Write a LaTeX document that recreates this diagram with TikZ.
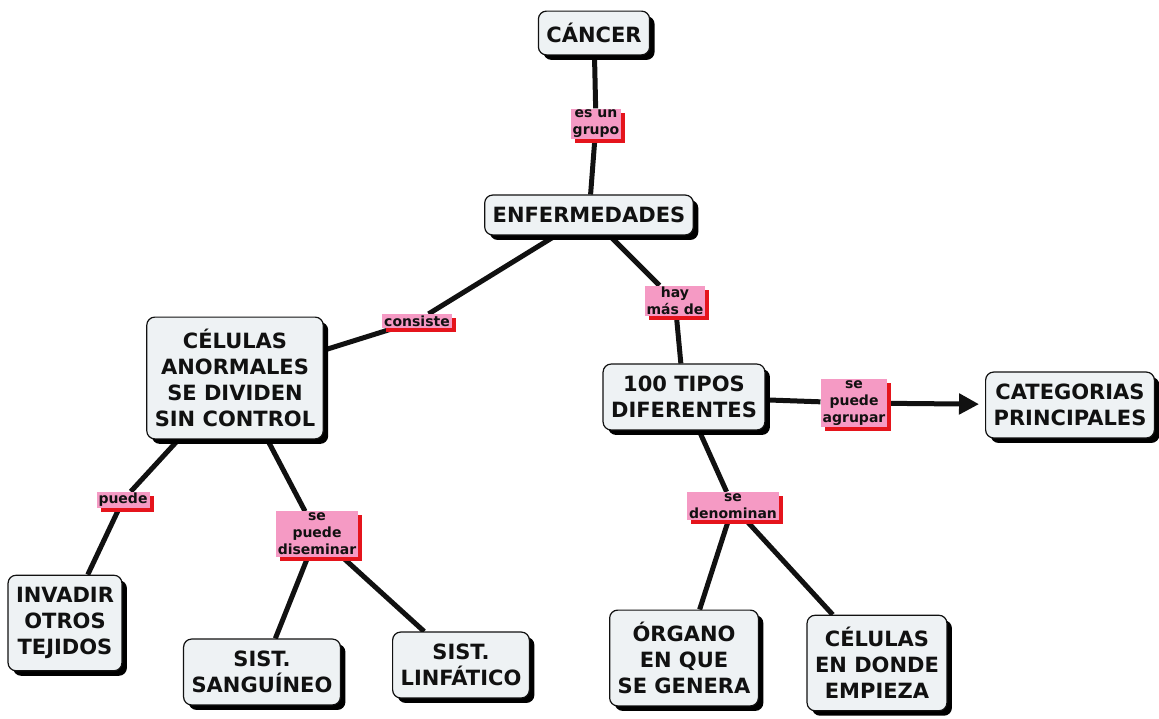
\documentclass[tikz,border=0pt]{standalone}
\usepackage{fontspec}
\setmainfont{DejaVu Sans}
\usetikzlibrary{arrows.meta,shadows,backgrounds}
\definecolor{cmBox}{HTML}{EEF2F4}
\definecolor{cmPink}{HTML}{F59AC4}
\definecolor{cmRed}{HTML}{E5141C}
\definecolor{cmInk}{HTML}{111111}
\tikzset{
  cm concept/.style={draw=cmInk, line width=1.2pt, rounded corners=8pt, fill=cmBox, align=center,
    inner xsep=8pt, inner ysep=12pt, font=\bfseries\fontsize{21}{26}\selectfont, text=cmInk,
    drop shadow={shadow xshift=5pt, shadow yshift=-5pt, fill=black, opacity=1}},
  cm link/.style={fill=cmPink, align=center, inner xsep=2pt, inner ysep=1.5pt,
    font=\bfseries\fontsize{14}{17}\selectfont, text=cmInk,
    drop shadow={shadow xshift=4pt, shadow yshift=-4pt, fill=cmRed, opacity=1}},
  cm line/.style={draw=cmInk, line width=5pt},
}
\begin{document}
\begin{tikzpicture}[x=1pt, y=-1pt]
  \useasboundingbox (0,0) rectangle (1159,718);
  % Concepts
  \node[cm concept] (cancer) at (594,33) {CÁNCER};
  \node[cm concept] (enf) at (589,215) {ENFERMEDADES};
  \node[cm concept] (celulas) at (235,378) {CÉLULAS\\ANORMALES\\SE DIVIDEN\\SIN CONTROL};
  \node[cm concept] (tipos) at (684,397) {100 TIPOS\\DIFERENTES};
  \node[cm concept] (categ) at (1070,405) {CATEGORIAS\\PRINCIPALES};
  \node[cm concept] (invadir) at (65,623) {INVADIR\\OTROS\\TEJIDOS};
  \node[cm concept] (sangre) at (262,672) {SIST.\\SANGUÍNEO};
  \node[cm concept] (linfa) at (461,665) {SIST.\\LINFÁTICO};
  \node[cm concept] (organo) at (684,658) {ÓRGANO\\EN QUE\\SE GENERA};
  \node[cm concept] (empieza) at (877,663) {CÉLULAS\\EN DONDE\\EMPIEZA};
  % Linking phrases
  \node[cm link] (grupo) at (596,124) {es un\\grupo};
  \node[cm link] (consiste) at (417,321) {consiste};
  \node[cm link] (hay) at (675,301) {hay\\más de};
  \node[cm link] (agrupar) at (854,403) {se\\puede\\agrupar};
  \node[cm link] (puede) at (123,500) {puede};
  \node[cm link] (disem) at (317,534) {se\\puede\\diseminar};
  \node[cm link] (denom) at (733,506) {se\\denominan};
  % Connectors
  \begin{scope}[on background layer]
    \fill[white] (0,0) rectangle (1159,718);
    \draw[cm line] (cancer) -- (grupo);
    \draw[cm line] (grupo) -- (enf);
    \draw[cm line] (enf) -- (consiste);
    \draw[cm line] (consiste) -- (celulas);
    \draw[cm line] (enf) -- (hay);
    \draw[cm line] (hay) -- (tipos);
    \draw[cm line] (tipos) -- (agrupar);
    \draw[cm line, -{Triangle[length=20pt, width=20pt]}, shorten >=6pt] (agrupar) -- (categ);
    \draw[cm line] (celulas) -- (puede);
    \draw[cm line] (puede) -- (invadir);
    \draw[cm line] (celulas) -- (disem);
    \draw[cm line] (disem) -- (sangre);
    \draw[cm line] (disem) -- (linfa);
    \draw[cm line] (tipos) -- (denom);
    \draw[cm line] (denom) -- (organo);
    \draw[cm line] (denom) -- (empieza);
  \end{scope}
\end{tikzpicture}
\end{document}
